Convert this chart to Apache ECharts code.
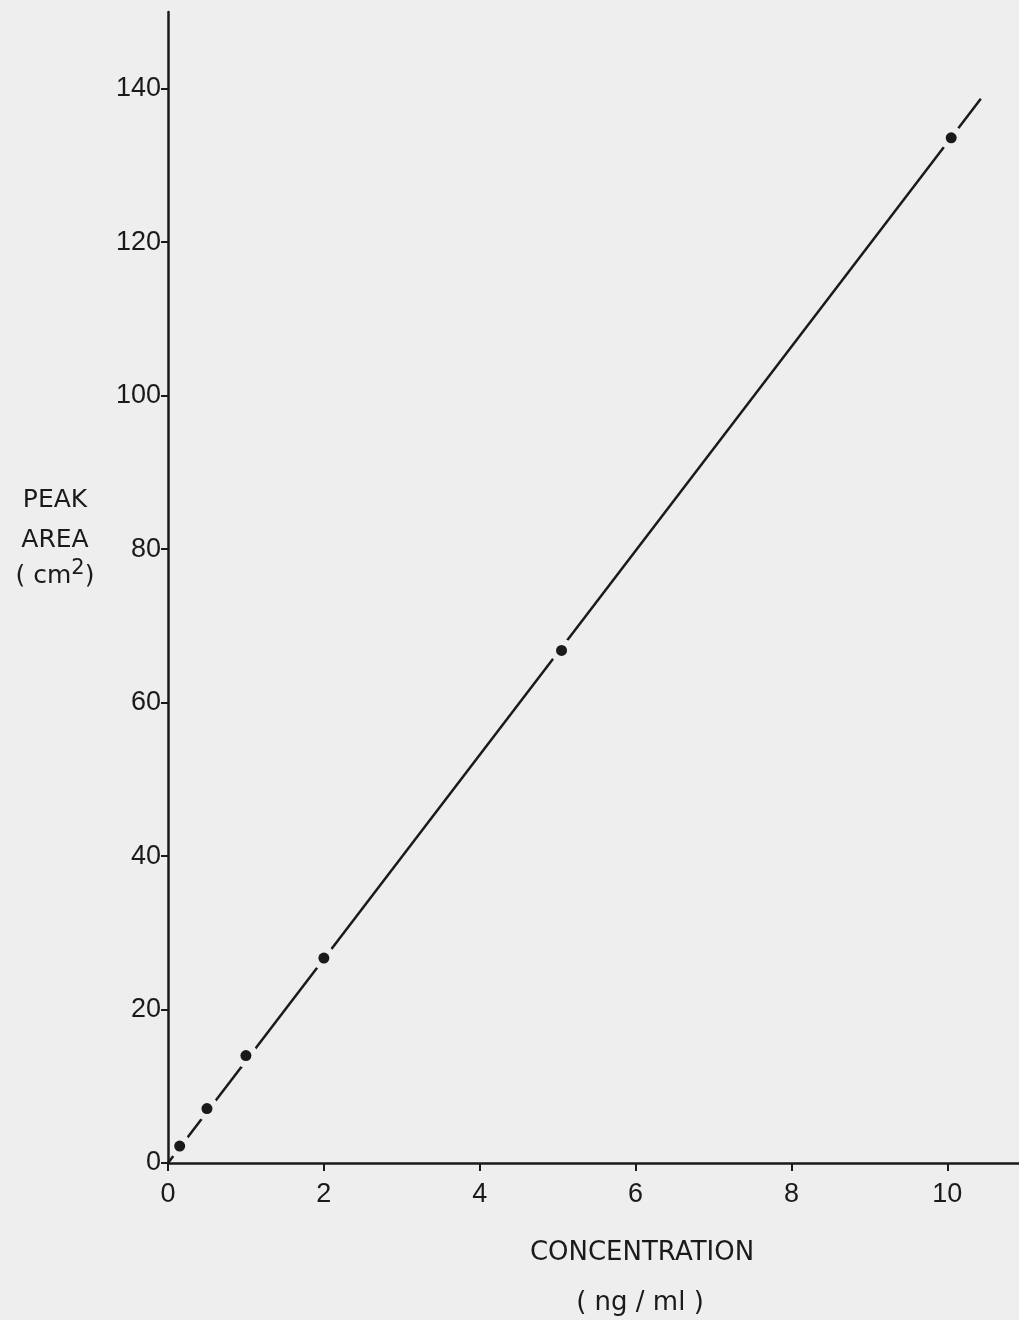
<!DOCTYPE html>
<html><head><meta charset="utf-8">
<script src="https://cdn.jsdelivr.net/npm/echarts@6/dist/echarts.min.js"></script>
<style>html,body{margin:0;padding:0;background:#eeeeee}#c{width:1019px;height:1320px}</style>
</head><body><div id="c"></div>
<script>
// Measured calibration points
const concentration = [0.15, 0.5, 1.0, 2.0, 5.05, 10.05];
const peakArea = [2.2, 7.1, 14.0, 26.7, 66.8, 133.6];
// Fitted calibration line end points
const fitX = [0, 10.43];
const fitY = [0, 138.7];
// Axis ticks
const xTicks = [0, 2, 4, 6, 8, 10];
const yTicks = [0, 20, 40, 60, 80, 100, 120, 140];

const ink = '#1a1a1a';
const bg = '#eeeeee';
const font = 'Liberation Sans';
const titleFont = 'DejaVu Sans';

const pts = concentration.map((x, i) => [x, peakArea[i]]);
const fit = fitX.map((x, i) => [x, fitY[i]]);

const chart = echarts.init(document.getElementById('c'), null, {renderer: 'canvas'});
chart.setOption({
  backgroundColor: bg,
  animation: false,
  grid: {left: 168, right: 0, top: 12, bottom: 157},
  xAxis: {
    type: 'value', min: 0, max: 10.92, z: 10,
    axisLine: {show: true, lineStyle: {color: ink, width: 2.5}},
    axisTick: {show: true, length: 8, lineStyle: {color: ink, width: 2}, customValues: xTicks},
    axisLabel: {color: ink, fontSize: 27, fontFamily: font, margin: 18, customValues: xTicks},
    splitLine: {show: false}
  },
  yAxis: {
    type: 'value', min: 0, max: 150, z: 10,
    axisLine: {show: true, lineStyle: {color: ink, width: 2.5}},
    axisTick: {show: true, length: 7, lineStyle: {color: ink, width: 2}, customValues: yTicks},
    axisLabel: {color: ink, fontSize: 27, fontFamily: font, margin: 7, customValues: yTicks},
    splitLine: {show: false}
  },
  series: [
    {type: 'line', data: fit, symbol: 'none', lineStyle: {color: ink, width: 2.5}, z: 2},
    {type: 'scatter', data: pts, symbol: 'circle', symbolSize: 24, itemStyle: {color: bg, opacity: 1}, z: 3},
    {type: 'scatter', data: pts, symbol: 'circle', symbolSize: 11, itemStyle: {color: ink, opacity: 1}, z: 4}
  ],
  graphic: [
    {type: 'text', x: 55, y: 500, style: {text: 'PEAK', fill: ink, font: '25px "DejaVu Sans"', textAlign: 'center', textVerticalAlign: 'middle'}},
    {type: 'text', x: 55, y: 540, style: {text: 'AREA', fill: ink, font: '25px "DejaVu Sans"', textAlign: 'center', textVerticalAlign: 'middle'}},
    {type: 'text', x: 55, y: 576, style: {text: '{a|( cm}{s|2}{a|)}', fill: ink, textAlign: 'center', textVerticalAlign: 'middle',
      rich: {a: {fontSize: 25, fontFamily: titleFont, fill: ink, color: ink}, s: {fontSize: 21, fontFamily: titleFont, fill: ink, color: ink, verticalAlign: 'top', padding: [0, 0, 14, 0]}}}},
    {type: 'text', x: 642, y: 1253, style: {text: 'CONCENTRATION', fill: ink, font: '26px "DejaVu Sans"', textAlign: 'center', textVerticalAlign: 'middle'}},
    {type: 'text', x: 640, y: 1303, style: {text: '( ng / ml )', fill: ink, font: '26px "DejaVu Sans"', textAlign: 'center', textVerticalAlign: 'middle'}}
  ]
});
</script></body></html>
